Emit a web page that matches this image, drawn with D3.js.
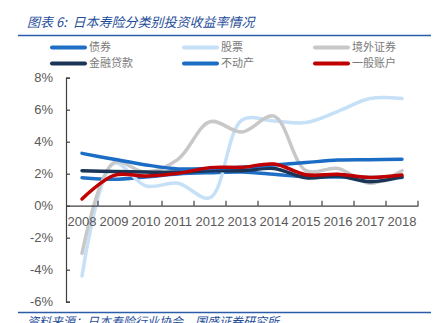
<!DOCTYPE html>
<html>
<head>
<meta charset="utf-8">
<script src="https://cdn.jsdelivr.net/npm/d3@7"></script>
<style>
  body { margin: 0; background: #fff; }
  svg { display: block; }
  .pre { white-space: pre; }
</style>
</head>
<body>
<svg id="chart" width="438" height="323"></svg>
<script>
// Years on the category axis
const years = ["2008","2009","2010","2011","2012","2013","2014","2015","2016","2017","2018"];

// Investment yields by asset class (%)
const bonds      = [1.75, 1.65, 1.80, 1.98, 2.06, 2.10, 1.96, 1.80, 1.80, 1.77, 1.77];
const equities   = [-4.40, 2.65, 1.23, 1.40, 0.50, 5.36, 5.30, 5.20, 5.90, 6.70, 6.70];
const foreignSec = [-2.98, 2.70, 2.10, 2.90, 5.25, 4.60, 5.60, 2.19, 2.33, 1.40, 2.19];
const loans      = [2.19, 2.13, 2.10, 2.10, 2.19, 2.19, 2.33, 1.75, 1.86, 1.50, 1.80];
const realEstate = [3.27, 2.90, 2.55, 2.30, 2.33, 2.40, 2.55, 2.70, 2.85, 2.87, 2.90];
const general    = [0.42, 1.90, 1.86, 2.02, 2.38, 2.40, 2.60, 1.94, 1.96, 1.77, 1.92];

const yTicks = [-6, -4, -2, 0, 2, 4, 6, 8];

const seriesNames  = ["债券", "股票", "境外证券", "金融贷款", "不动产", "一般账户"];
const seriesValues = [bonds, equities, foreignSec, loans, realEstate, general];
const seriesColors = ["#1f6fc5", "#c6e0f8", "#c8c8c8", "#1b3556", "#1a6cc4", "#c00000"];

const svg = d3.select("#chart");
const cjk = "'Noto Sans CJK SC', sans-serif";
const num = "'Liberation Sans', Arial, sans-serif";
const frameBlue = "#2b5ca8";

// Title and frame rules
svg.append("text")
  .attr("class", "pre")
  .attr("x", 27).attr("y", 27)
  .attr("font-family", cjk).attr("font-size", 13).attr("font-style", "italic")
  .attr("fill", "#1f4e9a")
  .text("图表 6:  日本寿险分类别投资收益率情况");
svg.append("line").attr("x1", 18).attr("x2", 431).attr("y1", 35.5).attr("y2", 35.5)
  .attr("stroke", frameBlue).attr("stroke-width", 1.5);
svg.append("line").attr("x1", 18).attr("x2", 431).attr("y1", 312.5).attr("y2", 312.5)
  .attr("stroke", frameBlue).attr("stroke-width", 1.5);
svg.append("text")
  .attr("x", 27).attr("y", 326)
  .attr("font-family", cjk).attr("font-size", 12).attr("font-style", "italic")
  .attr("fill", "#1f4e9a")
  .text("资料来源：日本寿险行业协会，国盛证券研究所");

// Scales
const x = d3.scaleBand().domain(years).range([66, 418]);
const y = d3.scaleLinear().domain([-6, 8]).range([301.7, 77.7]);
const cx = d => x(d) + x.bandwidth() / 2;

// Series lines (drawn first so axis labels sit above them)
const line = d3.line()
  .x((d, i) => cx(years[i]))
  .y(d => y(d))
  .curve(d3.curveCatmullRom.alpha(0.5));

svg.append("g").selectAll("path")
  .data(seriesValues)
  .enter().append("path")
  .attr("d", d => line(d))
  .attr("fill", "none")
  .attr("stroke", (d, i) => seriesColors[i])
  .attr("stroke-width", 3.5)
  .attr("stroke-linejoin", "round")
  .attr("stroke-linecap", "round");

// Y axis with inward ticks
const yAxis = svg.append("g")
  .attr("transform", "translate(66,0)")
  .call(d3.axisLeft(y).tickValues(yTicks).tickSize(-4).tickPadding(13)
    .tickFormat(d => d + "%"));
yAxis.select(".domain").attr("stroke", "#404040").attr("stroke-width", 1.2);
yAxis.selectAll(".tick line").attr("stroke", "#404040").attr("stroke-width", 1.2);
yAxis.selectAll("text").attr("font-family", num).attr("font-size", 13).attr("fill", "#595959");

// X axis at the zero line, ticks on band boundaries pointing up
const xAxis = svg.append("g")
  .attr("transform", `translate(0,${y(0)})`)
  .call(d3.axisBottom(x).tickSize(0).tickPadding(11));
xAxis.select(".domain").attr("stroke", "#404040").attr("stroke-width", 1.2);
xAxis.selectAll("text").attr("font-family", num).attr("font-size", 13).attr("fill", "#595959");
xAxis.selectAll(".bound")
  .data(years.slice(1).concat(["end"]))
  .enter().append("line")
  .attr("x1", (d, i) => x.range()[0] + (i + 1) * x.bandwidth())
  .attr("x2", (d, i) => x.range()[0] + (i + 1) * x.bandwidth())
  .attr("y1", 0).attr("y2", -5)
  .attr("stroke", "#404040").attr("stroke-width", 1.2);

// Legend: two rows of three
const legendCols = [52, 184, 315];
const legendRows = [47.5, 63.5];
const legend = svg.append("g").selectAll("g")
  .data(seriesNames)
  .enter().append("g")
  .attr("transform", (d, i) => `translate(${legendCols[i % 3]},${legendRows[Math.floor(i / 3)]})`);
legend.append("line")
  .attr("x1", 0).attr("x2", 33).attr("y1", 0).attr("y2", 0)
  .attr("stroke", (d, i) => seriesColors[i])
  .attr("stroke-width", 4).attr("stroke-linecap", "round");
legend.append("text")
  .attr("x", 37).attr("y", 0).attr("dy", "0.36em")
  .attr("font-family", cjk).attr("font-size", 11).attr("fill", "#7a7a7a")
  .text(d => d);
</script>
</body>
</html>
